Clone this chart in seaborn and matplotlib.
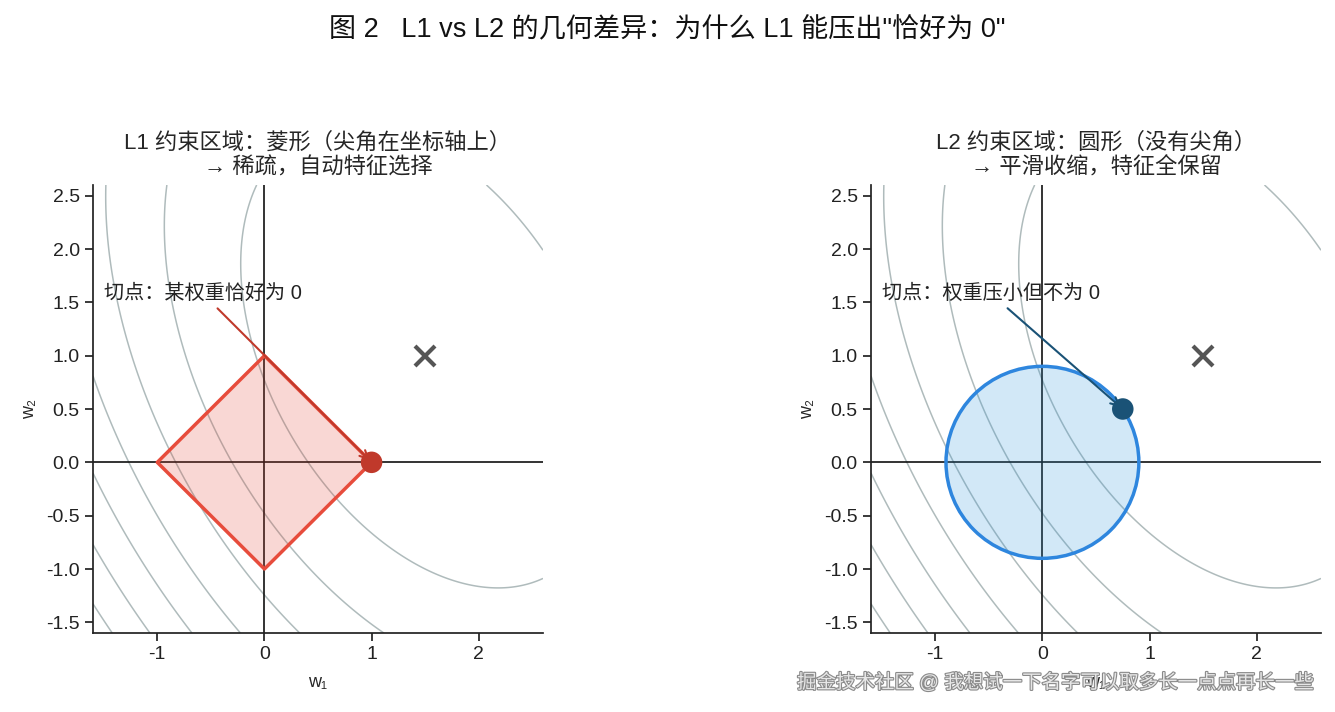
import numpy as np
import pandas as pd
import matplotlib
matplotlib.use("Agg")
import matplotlib.pyplot as plt
import matplotlib.patheffects as pe
from matplotlib.patches import Circle
import seaborn as sns

# ---------------- data ----------------
w_lim = [-1.6, 2.6]
optimum_w1 = [1.5]
optimum_w2 = [1.0]
loss_coef = [1.6, 1.0, 1.0]          # a*d1^2 + b*d1*d2 + c*d2^2 around the optimum
contour_levels = [4, 8, 12, 16, 20, 24, 28, 32]
l1_w1 = [1.0, 0.0, -1.0, 0.0, 1.0]
l1_w2 = [0.0, 1.0, 0.0, -1.0, 0.0]
l2_radius = 0.9
l1_tangent = [1.0, 0.0]
l2_tangent = [0.75, 0.5]
note_xy = [-1.5, 1.53]
x_ticks = [-1, 0, 1, 2]
y_ticks = [-1.5, -1.0, -0.5, 0.0, 0.5, 1.0, 1.5, 2.0, 2.5]
suptitle = '图 2   L1 vs L2 的几何差异：为什么 L1 能压出"恰好为 0"'
titles = ["L1 约束区域：菱形（尖角在坐标轴上）\n→ 稀疏，自动特征选择",
          "L2 约束区域：圆形（没有尖角）\n→ 平滑收缩，特征全保留"]
notes = ["切点：某权重恰好为 0", "切点：权重压小但不为 0"]
watermark = "掘金技术社区 @ 我想试一下名字可以取多长一点点再长一些"

# ---------------- style ----------------
sns.set_theme(style="ticks")
plt.rcParams["font.family"] = ["Liberation Sans", "Noto Sans CJK SC", "DejaVu Sans"]
plt.rcParams["axes.unicode_minus"] = False
plt.rcParams["axes.edgecolor"] = "#222222"
plt.rcParams["xtick.color"] = "#222222"
plt.rcParams["ytick.color"] = "#222222"

W = 1335
H = 712
fig = plt.figure(figsize=(W / 100, H / 100), dpi=100)

ax_rects = [
    [93 / W, 79 / H, 450 / W, 448 / H],
    [871 / W, 79 / H, 450 / W, 448 / H],
]

g = np.linspace(w_lim[0], w_lim[1], 500)
G1, G2 = np.meshgrid(g, g)
d1 = G1 - optimum_w1[0]
d2 = G2 - optimum_w2[0]
Z = loss_coef[0] * d1 ** 2 + loss_coef[1] * d1 * d2 + loss_coef[2] * d2 ** 2

styles = [
    dict(edge="#e74c3c", fill="#e74c3c", dot="#c0392b", arrow="#c0392b"),
    dict(edge="#2e86de", fill="#3498db", dot="#1a5276", arrow="#1a5276"),
]
tangents = [l1_tangent, l2_tangent]

for i, rect in enumerate(ax_rects):
    ax = fig.add_axes(rect)
    st = styles[i]
    ax.contour(G1, G2, Z, levels=contour_levels, colors="#95a5a6",
               linewidths=1.1, alpha=0.75, zorder=1)
    ax.axhline(0, color="#111111", lw=1.2, zorder=2)
    ax.axvline(0, color="#111111", lw=1.2, zorder=2)

    if i == 0:
        ax.fill(l1_w1, l1_w2, color=st["fill"], alpha=0.22, lw=0, zorder=3)
        sns.lineplot(x=l1_w1, y=l1_w2, sort=False, estimator=None, ax=ax,
                     color=st["edge"], lw=2.5, zorder=4)
    else:
        ax.add_patch(Circle((0, 0), l2_radius, facecolor=st["fill"], alpha=0.22,
                            lw=0, zorder=3))
        ax.add_patch(Circle((0, 0), l2_radius, facecolor="none",
                            edgecolor=st["edge"], lw=2.5, zorder=4))

    sns.scatterplot(x=[tangents[i][0]], y=[tangents[i][1]], ax=ax, s=240,
                    color=st["dot"], edgecolor="none", zorder=6)
    ax.plot(optimum_w1, optimum_w2, marker="x", ms=14, mew=3, color="#555555",
            ls="none", zorder=6)

    ax.annotate(notes[i], xy=tuple(tangents[i]), xytext=tuple(note_xy),
                fontsize=14.5, color="#222222", zorder=7,
                arrowprops=dict(arrowstyle="->", color=st["arrow"], lw=1.5))

    ax.set_xlim(w_lim)
    ax.set_ylim(w_lim)
    ax.set_xticks(x_ticks)
    ax.set_yticks(y_ticks)
    ax.set_xticklabels([str(t) for t in x_ticks])
    ax.set_yticklabels([f"{t:.1f}" for t in y_ticks])
    ax.tick_params(labelsize=14, length=6, width=1.25)
    ax.set_xlabel("w₁", fontsize=13, labelpad=8)
    ax.set_ylabel("w₂", fontsize=13, labelpad=6)
    ax.set_title(titles[i], fontsize=16, pad=8, linespacing=1.25)
    sns.despine(ax=ax)

fig.text(0.5, 1 - 30 / H, suptitle, ha="center", va="center", fontsize=19.5,
         color="#111111")

fig.text(1315 / W, 29 / H, watermark, ha="right", va="center", fontsize=14,
         color="#e6e6e6",
         path_effects=[pe.withStroke(linewidth=1.6, foreground="#8a8a8a")])

fig.savefig("out.png", dpi=100)
